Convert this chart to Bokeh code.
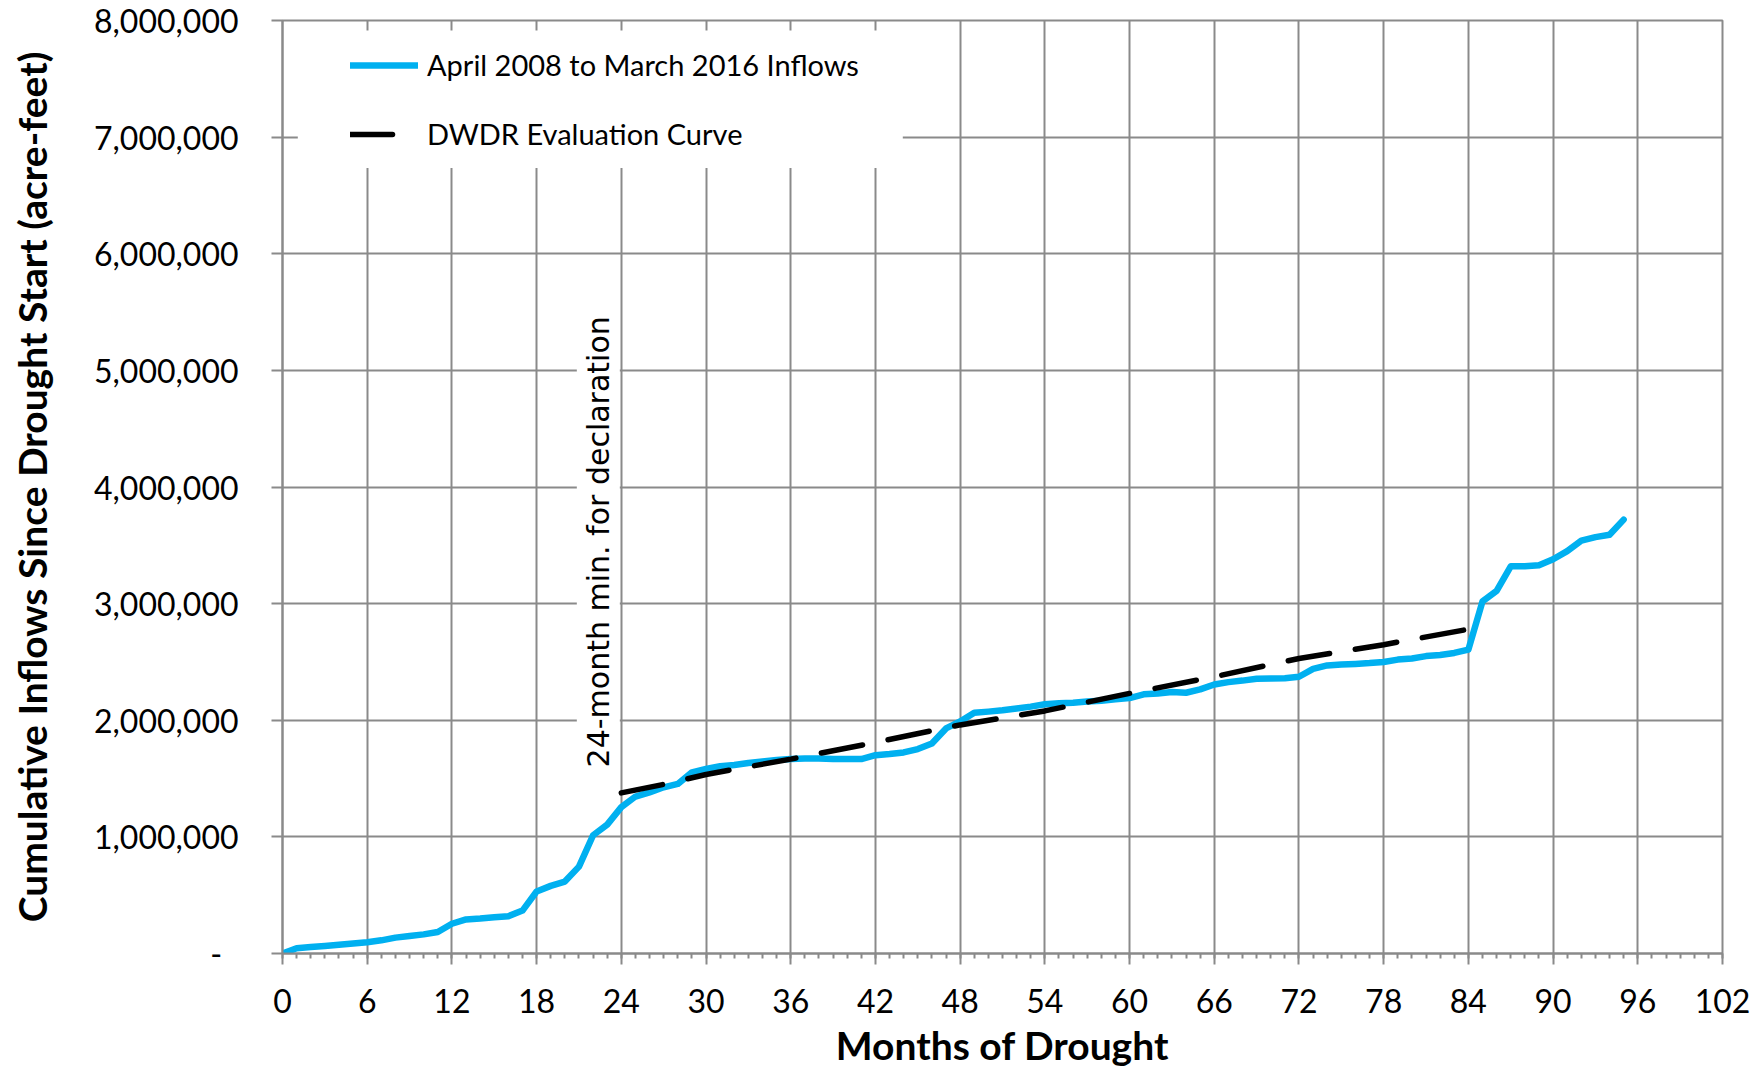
from bokeh.plotting import figure
from bokeh.models import (Range1d, FixedTicker, NumeralTickFormatter, Legend,
                          LegendItem, Label, BoxAnnotation)
from bokeh.embed import file_html
from bokeh.resources import INLINE

# ---------------- data ----------------
months = list(range(96))
inflows = [
    0, 45000, 55000, 65000, 75000, 86000, 97000, 113000, 136000, 150000,
    164000, 184000, 255000, 292000, 300000, 311000, 320000, 368000, 532000, 580000,
    617000, 745000, 1014000, 1105000, 1255000, 1346000, 1382000, 1425000, 1454000, 1553000,
    1582000, 1605000, 1616000, 1633000, 1647000, 1659000, 1667000, 1673000, 1673000, 1667000,
    1667000, 1667000, 1700000, 1710000, 1724000, 1753000, 1800000, 1930000, 1990000, 2065000,
    2074000, 2085000, 2100000, 2117000, 2137000, 2145000, 2150000, 2160000, 2168000, 2180000,
    2190000, 2222000, 2230000, 2242000, 2236000, 2265000, 2307000, 2327000, 2340000, 2356000,
    2358000, 2361000, 2373000, 2440000, 2470000, 2478000, 2483000, 2490000, 2500000, 2520000,
    2530000, 2550000, 2560000, 2577000, 2606000, 3020000, 3110000, 3320000, 3320000, 3330000,
    3380000, 3450000, 3540000, 3570000, 3590000, 3720000,
]
curve_months = [24, 27, 30, 36, 42, 48, 54, 60, 66, 72, 78, 84]
curve_values = [1377000, 1450000, 1535000, 1667000, 1810000, 1960000, 2080000,
                2230000, 2373000, 2530000, 2648000, 2780000]

x_ticks = list(range(0, 103, 6))
x_minor = list(range(0, 103))
y_ticks = [0, 1000000, 2000000, 3000000, 4000000, 5000000, 6000000, 7000000, 8000000]

series_names = ["April 2008 to March 2016 Inflows", "DWDR Evaluation Curve"]
x_title = "Months of Drought"
y_title = "Cumulative Inflows Since Drought Start (acre-feet)"
note_text = "24-month min. for declaration"
note_month = 24
note_value = 3530000

GRAY = "#8a8a8a"
BLUE = "#00B0F0"

p = figure(width=1752, height=1070, output_backend="svg", toolbar_location=None,
           x_range=Range1d(0, 102), y_range=Range1d(0, 8000000),
           min_border_left=282, min_border_right=30, min_border_top=20,
           min_border_bottom=114)

p.background_fill_color = "white"
p.border_fill_color = "white"
p.outline_line_color = GRAY
p.outline_line_width = 2

# grids
p.xgrid.ticker = FixedTicker(ticks=x_ticks)
p.ygrid.ticker = FixedTicker(ticks=y_ticks)
for g in (p.xgrid, p.ygrid):
    g.grid_line_color = GRAY
    g.grid_line_width = 2

# axes
p.xaxis.ticker = FixedTicker(ticks=x_ticks, minor_ticks=x_minor)
p.yaxis.ticker = FixedTicker(ticks=y_ticks)
p.yaxis.formatter = NumeralTickFormatter(format="0,0")
p.yaxis.major_label_overrides = {0: "-\u00a0\u00a0"}

for ax in (p.xaxis, p.yaxis):
    ax.axis_line_color = GRAY
    ax.axis_line_width = 2
    ax.major_tick_line_color = GRAY
    ax.major_tick_line_width = 2
    ax.major_tick_out = 11
    ax.major_tick_in = 0
    ax.major_label_text_font = "Lato"
    ax.major_label_text_font_size = "32px"
    ax.major_label_text_color = "black"
    ax.axis_label_text_font = "Lato"
    ax.axis_label_text_font_style = "bold"
    ax.axis_label_text_font_size = "39px"
    ax.axis_label_text_color = "black"

p.xaxis.minor_tick_line_color = GRAY
p.xaxis.minor_tick_line_width = 2
p.xaxis.minor_tick_out = 5
p.xaxis.minor_tick_in = 0
p.yaxis.minor_tick_line_color = None

p.xaxis.axis_label = x_title
p.yaxis.axis_label = y_title
p.xaxis.major_label_standoff = 24
p.xaxis.axis_label_standoff = 6
p.yaxis.major_label_standoff = 33
p.yaxis.axis_label_standoff = 36

# series
r_blue = p.line(months, inflows, line_color=BLUE, line_width=6.5,
                line_join="round", line_cap="round")
r_dash = p.line(curve_months, curve_values, line_color="black", line_width=5.5,
                line_dash="42 26", line_cap="round")

# white box behind legend (covers the grid there)
px_per_month = 1440 / 102
px_per_unit = 936 / 8000000
leg_box = BoxAnnotation(left=(297 - 281.7) / px_per_month,
                        right=(902 - 281.7) / px_per_month,
                        top=8000000 - (30 - 20) / px_per_unit,
                        bottom=8000000 - (168 - 20) / px_per_unit,
                        fill_color="white", fill_alpha=1, line_color=None)
p.add_layout(leg_box)

legend = Legend(items=[LegendItem(label=series_names[0], renderers=[r_blue]),
                       LegendItem(label=series_names[1], renderers=[r_dash])],
                location=(68, 802), orientation="vertical",
                glyph_width=68, glyph_height=34, label_height=34,
                label_standoff=9, spacing=34, padding=20, margin=0,
                label_text_font="Lato", label_text_font_size="29px",
                label_text_color="black",
                background_fill_alpha=0, border_line_color=None)
p.add_layout(legend, "center")

note = Label(x=note_month, y=note_value, text=note_text, angle=90, angle_units="deg",
             x_offset=-23, text_font="DejaVu Sans", text_font_size="30px",
             text_color="black", text_align="center", text_baseline="middle",
             background_fill_color="white", background_fill_alpha=1, padding=4)
p.add_layout(note)

open("out.html", "w").write(file_html(p, INLINE))
